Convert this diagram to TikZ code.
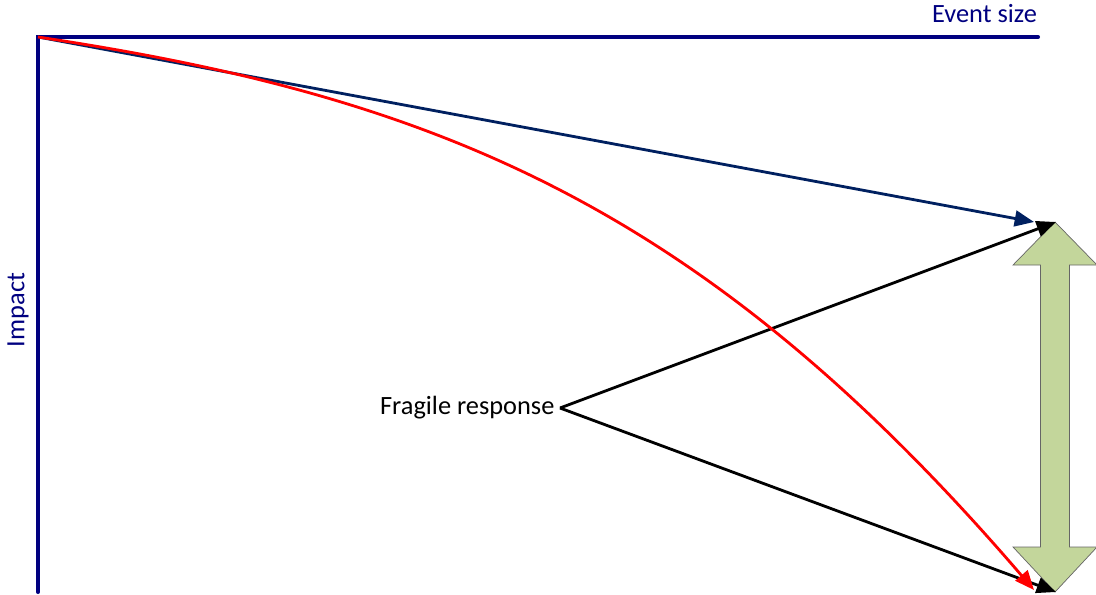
\documentclass[tikz,border=0pt]{standalone}
\usepackage{fontspec}
\setmainfont{Carlito}
\usetikzlibrary{arrows.meta}
\definecolor{axisblue}{RGB}{0,0,128}
\definecolor{lineblue}{RGB}{0,32,96}
\definecolor{arrowgreen}{RGB}{195,214,155}
\tikzset{
    axis/.style = {line width = 2.3pt, axisblue, line cap = round},
    pointer/.style = {line width = 1.6pt, -{Triangle[length = 11pt, width = 9pt]}},
    lbl/.style = {font = \fontsize{15}{17}\selectfont, inner sep = 1pt}
}
\begin{document}
\begin{tikzpicture}
        \useasboundingbox (0,0) rectangle (21.92,-11.88);
        % axes
        \coordinate (origin) at (0.76,-0.74);
        \coordinate (xend) at (20.76,-0.74);
        \coordinate (yend) at (0.76,-11.84);
        \draw[axis] (yend) -- (origin) -- (xend);
        \node[lbl, axisblue, anchor = south east] (xlabel) at (20.78,-0.5) {Event size};
        \node[lbl, axisblue, rotate = 90] (ylabel) at (0.36,-6.2) {Impact};
        % double arrow
        \begin{scope}
        \draw[fill = arrowgreen, draw = black!60, thin] (21.1,-4.44) -- (21.94,-5.3) -- (21.39,-5.3) -- (21.39,-10.94) -- (21.94,-10.94) -- (21.1,-11.84) -- (20.26,-10.94) -- (20.81,-10.94) -- (20.81,-5.3) -- (20.26,-5.3) -- cycle;
        \end{scope}
        % responses
        \coordinate (linear) at (20.68,-4.44);
        \coordinate (top) at (21.12,-4.44);
        \coordinate (bottom) at (21.12,-11.84);
        \coordinate (fragile) at (20.68,-11.8);
        \node[lbl, inner sep = 3pt, anchor = east] (resp) at (11.2,-8.16) {Fragile response};
        \draw[pointer, lineblue] (origin) -- (linear);
        \draw[pointer, black] (resp.east) -- (top);
        \draw[pointer, black] (resp.east) -- (bottom);
        \draw[pointer, red] (origin) .. controls (8.76,-1.94) and (14.1,-4.14) .. (fragile);
\end{tikzpicture}
\end{document}
